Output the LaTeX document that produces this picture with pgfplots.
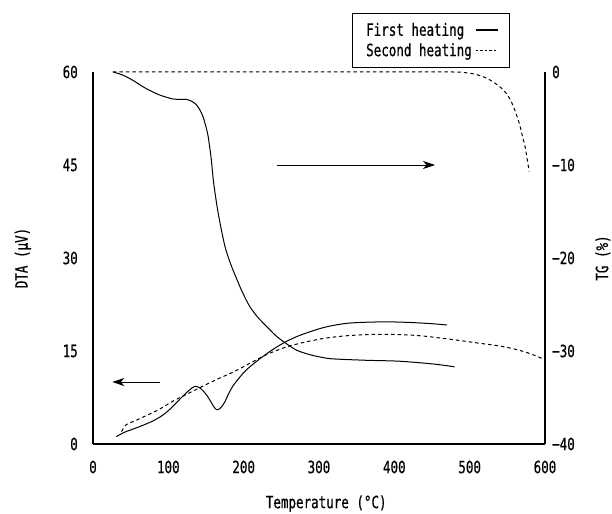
\documentclass[border=0pt]{standalone}
\usepackage{pgfplots}
\pgfplotsset{compat=1.18}
\usetikzlibrary{arrows.meta}
\usepackage{fontspec}
\setmainfont{DejaVu Sans Mono}[FakeStretch=0.74, FakeBold=0.6]
\newcommand\lf{\fontsize{17}{19}\selectfont}

\begin{document}
\begin{tikzpicture}
\useasboundingbox (-93bp,-70bp) rectangle (519bp,444bp);
% DTA, left axis
\begin{axis}[
  scale only axis, width=452bp, height=372bp,
  xmin=0, xmax=600, ymin=0, ymax=60,
  axis x line*=bottom, axis y line*=left,
  x axis line style={line width=1.5bp},
  y axis line style={line width=2.4bp},
  xtick={0,100,...,600}, ytick={0,15,30,45,60},
  major tick length=0pt,
  /pgf/number format/assume math mode=true,
  tick label style={font=\lf},
  xticklabel style={anchor=center, yshift=-23bp},
  yticklabel style={anchor=east, inner sep=0pt, xshift=-15bp},
  xlabel={Temperature (°C)}, ylabel={DTA (µV)},
  label style={font=\lf},
  xlabel style={at={(axis description cs:0.516,-0.16)}, anchor=center},
  ylabel style={at={(axis description cs:-0.155,0.5)}, anchor=center},
]
% first heating
\addplot[black, line width=1bp, smooth] coordinates {
  (31,1.2) (42,1.9) (53,2.4) (66,3.0) (80,3.75) (92,4.6) (102,5.6) (111,6.7)
  (120,7.8) (128,8.7) (135,9.3) (141,9.1) (146,8.6) (152,7.7) (157,6.7)
  (161,5.9) (165,5.5) (170,5.9) (175,6.8) (180,8.1) (186,9.4) (195,10.8)
  (204,12.0) (221,13.7) (237,15.1) (253,16.3) (270,17.3)
  (288,18.1) (310,18.9) (340,19.5) (385,19.7) (421,19.6)
  (450,19.4) (470,19.2)};
% second heating
\addplot[black, line width=1bp, dash pattern=on 3.5bp off 3bp, smooth] coordinates {
  (38,2.0) (44,3.1) (57,3.8) (71,4.6) (88,5.6) (106,6.9) (124,8.0) (142,9.1)
  (164,10.4) (186,11.6) (208,13.0) (230,14.4) (253,15.5)
  (270,16.1) (288,16.6) (310,17.1) (341,17.5) (385,17.7)
  (430,17.5) (474,16.9) (510,16.3) (540,15.8) (560,15.3) (576,14.75)
  (590,14.1) (598,13.7)};
\draw[line width=0.9bp, -{Stealth[length=12bp, width=8bp, inset=3.5bp]}]
  (axis cs:88.5,10) -- (axis cs:25.6,10);
\end{axis}
% TG, right axis
\begin{axis}[
  scale only axis, width=452bp, height=372bp,
  xmin=0, xmax=600, ymin=-40, ymax=0,
  hide x axis,
  axis y line*=right,
  y axis line style={line width=2.2bp},
  ytick={-40,-30,...,0},
  yticklabels={−40,−30,−20,−10,0},
  major tick length=0pt,
  yticklabel style={font=\lf, anchor=west, inner sep=0pt, xshift=7bp},
  ylabel={TG (\%)},
  ylabel style={font=\lf, at={(axis description cs:1.128,0.5)}, anchor=center},
  legend style={at={(0.9226,1.1586)}, anchor=north east, draw=black,
    line width=0.8bp, font=\lf, inner xsep=11bp, inner ysep=6.5bp,
    nodes={inner sep=3bp}},
  legend plot pos=right, legend cell align=left,
  legend image code/.code={\draw[#1] (0bp,0bp) -- (22bp,0bp);},
]
% first heating
\addplot[black, line width=1bp, smooth, forget plot] coordinates {
  (26.5,0) (35,-0.2) (44,-0.5) (55,-1.0) (66,-1.57) (77,-2.05) (88,-2.46)
  (97,-2.7) (106,-2.9) (115,-2.95) (124,-2.95) (131,-3.15) (137,-3.5)
  (142,-4.1) (146,-4.8) (150,-5.9) (153,-7.0) (157,-9.4) (160,-11.8)
  (166,-15.1) (175,-18.7) (183,-20.7) (191,-22.3) (199,-23.8) (208,-25.2)
  (219,-26.4) (231,-27.4) (242,-28.3) (253,-29.0) (270,-29.9) (288,-30.4)
  (305,-30.7) (319,-30.85) (363,-31.0) (407,-31.1) (452,-31.4) (480,-31.7)};
% second heating
\addplot[black, line width=1bp, dash pattern=on 3.5bp off 3bp, smooth, forget plot] coordinates {
  (26.5,0) (100,0) (200,0) (300,0) (400,0) (478,0) (495,-0.08) (505,-0.2)
  (516,-0.45) (527,-0.86) (537,-1.4) (545,-1.95) (552,-2.7) (558,-3.7)
  (563,-4.8) (567,-5.85) (570,-6.9) (573.5,-8) (576,-9.2) (579,-10.7)};
\addlegendimage{black, line width=1.8bp}
\addlegendentry{First heating}
\addlegendimage{black, line width=0.9bp, dash pattern=on 2.5bp off 2bp}
\addlegendentry{Second heating}
\draw[line width=0.9bp, -{Stealth[length=12bp, width=8bp, inset=3.5bp]}]
  (axis cs:244,-10) -- (axis cs:454,-10);
\end{axis}
\end{tikzpicture}
\end{document}
